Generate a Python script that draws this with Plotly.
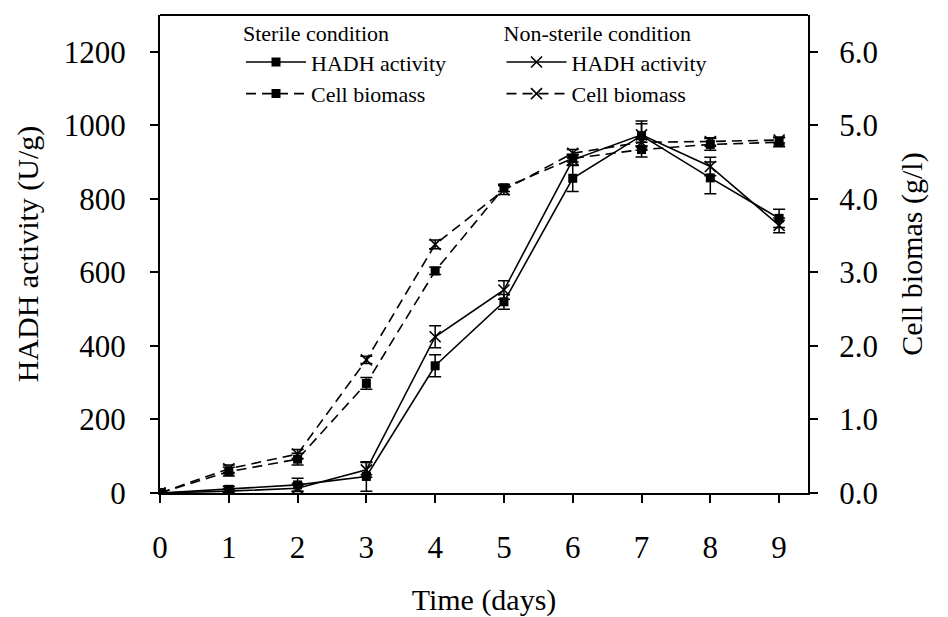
import plotly.graph_objects as go

# Sampling days
days = [0, 1, 2, 3, 4, 5, 6, 7, 8, 9]

# HADH activity (U/g)
sterile_hadh = [0, 10, 22, 45, 346, 520, 856, 972, 857, 747]
sterile_hadh_err = [6, 8, 18, 40, 30, 20, 36, 40, 43, 25]
nonsterile_hadh = [0, 5, 13, 63, 425, 552, 906, 974, 888, 728]
nonsterile_hadh_err = [6, 6, 8, 20, 30, 25, 15, 30, 25, 20]

# Cell biomass (g/l)
sterile_bio = [0, 0.29, 0.46, 1.49, 3.02, 4.15, 4.55, 4.67, 4.74, 4.77]
sterile_bio_err = [0.05, 0.06, 0.08, 0.08, 0.05, 0.05, 0.05, 0.1, 0.08, 0.06]
nonsterile_bio = [0, 0.33, 0.53, 1.81, 3.38, 4.12, 4.62, 4.77, 4.78, 4.80]
nonsterile_bio_err = [0.05, 0.05, 0.06, 0.05, 0.06, 0.06, 0.05, 0.05, 0.05, 0.04]

FONT = "Liberation Serif"
BLACK = "#000000"
DASH = "10px,6px"

sq = dict(symbol="square", size=9, color=BLACK)
xm = dict(symbol="x-thin-open", size=11, color=BLACK, line=dict(width=1.6, color=BLACK))


def err(vals):
    return dict(type="data", array=vals, color=BLACK, thickness=1.5, width=6)


fig = go.Figure()

fig.add_trace(go.Scatter(
    x=days, y=sterile_hadh, error_y=err(sterile_hadh_err),
    mode="lines+markers", name="HADH activity",
    line=dict(color=BLACK, width=1.6), marker=sq, legend="legend"))
fig.add_trace(go.Scatter(
    x=days, y=sterile_bio, error_y=err(sterile_bio_err), yaxis="y2",
    mode="lines+markers", name="Cell biomass",
    line=dict(color=BLACK, width=1.6, dash=DASH), marker=sq, legend="legend"))
fig.add_trace(go.Scatter(
    x=days, y=nonsterile_hadh, error_y=err(nonsterile_hadh_err),
    mode="lines+markers", name="HADH activity",
    line=dict(color=BLACK, width=1.6), marker=xm, legend="legend2"))
fig.add_trace(go.Scatter(
    x=days, y=nonsterile_bio, error_y=err(nonsterile_bio_err), yaxis="y2",
    mode="lines+markers", name="Cell biomass",
    line=dict(color=BLACK, width=1.6, dash=DASH), marker=xm, legend="legend2"))

TICK_SIZE = 31
TITLE_SIZE = 30
LEG_SIZE = 22

axis_common = dict(
    showline=True, linecolor=BLACK, linewidth=2, mirror=False,
    ticks="outside", ticklen=8, tickwidth=1.5, tickcolor=BLACK,
    showgrid=False, zeroline=False, automargin=False,
    tickfont=dict(family=FONT, size=TICK_SIZE, color=BLACK),
)

legend_common = dict(
    font=dict(family=FONT, size=LEG_SIZE, color=BLACK),
    bgcolor="rgba(0,0,0,0)", borderwidth=0,
    xanchor="left", yanchor="top", tracegroupgap=0,
    itemwidth=60,
)

fig.update_layout(
    width=948, height=617,
    margin=dict(l=160, r=140, t=15, b=124, autoexpand=False),
    paper_bgcolor="white", plot_bgcolor="white",
    font=dict(family=FONT, color=BLACK),
    xaxis=dict(
        **axis_common, range=[0, 9.42], tickvals=days,
        ticklabelstandoff=18,
        title=dict(text="Time (days)", font=dict(family=FONT, size=TITLE_SIZE), standoff=26),
    ),
    yaxis=dict(
        **axis_common, range=[0, 1300], tickvals=[0, 200, 400, 600, 800, 1000, 1200],
        ticklabelstandoff=18,
        title=dict(text="HADH activity (U/g)", font=dict(family=FONT, size=TITLE_SIZE), standoff=16),
    ),
    yaxis2=dict(
        **axis_common, range=[0, 6.5], overlaying="y", side="right",
        tickvals=[0, 1, 2, 3, 4, 5, 6], tickformat=".1f",
        ticklabelstandoff=15,
        title=dict(text="Cell biomas (g/l)", font=dict(family=FONT, size=TITLE_SIZE), standoff=24),
    ),
    legend=dict(**legend_common, x=0.125, y=1.005,
                title=dict(text="Sterile condition", font=dict(family=FONT, size=LEG_SIZE))),
    legend2=dict(**legend_common, x=0.527, y=1.005,
                 title=dict(text="Non-sterile condition", font=dict(family=FONT, size=LEG_SIZE))),
    showlegend=True,
)

# top border of the plotting frame
fig.add_shape(type="line", xref="paper", yref="paper", x0=0, x1=1, y0=1, y1=1,
              line=dict(color=BLACK, width=2))

fig.write_html("out.html")
